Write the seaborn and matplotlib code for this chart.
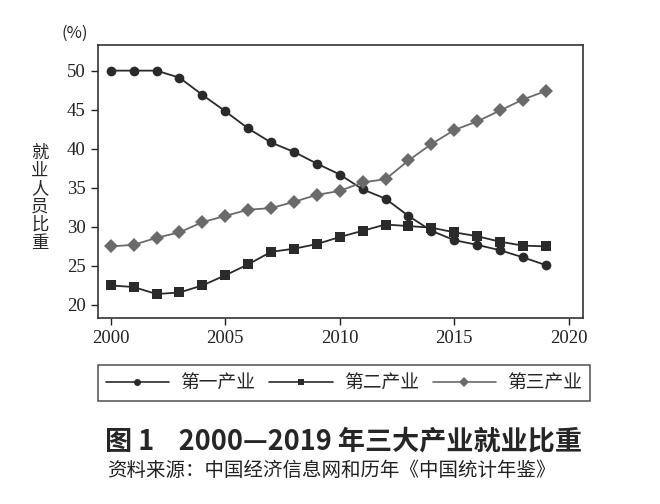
import numpy as np
import pandas as pd
import seaborn as sns
import matplotlib
matplotlib.use("Agg")
import matplotlib.pyplot as plt

years = list(range(2000, 2020))
primary = [50.0, 50.0, 50.0, 49.1, 46.9, 44.8, 42.6, 40.8, 39.6, 38.1,
           36.7, 34.8, 33.6, 31.4, 29.5, 28.3, 27.7, 27.0, 26.1, 25.1]
secondary = [22.5, 22.3, 21.4, 21.6, 22.5, 23.8, 25.2, 26.8, 27.2, 27.8,
             28.7, 29.5, 30.3, 30.1, 29.9, 29.3, 28.8, 28.1, 27.6, 27.5]
tertiary = [27.5, 27.7, 28.6, 29.3, 30.6, 31.4, 32.2, 32.4, 33.2, 34.1,
            34.6, 35.7, 36.1, 38.5, 40.6, 42.4, 43.5, 44.9, 46.3, 47.4]
series_names = ["第一产业", "第二产业", "第三产业"]
x_ticks = [2000, 2005, 2010, 2015, 2020]
y_ticks = [20, 25, 30, 35, 40, 45, 50]

df = pd.DataFrame({
    "year": years * 3,
    "value": primary + secondary + tertiary,
    "series": [series_names[0]] * 20 + [series_names[1]] * 20 + [series_names[2]] * 20,
})

sns.set_style("ticks")
plt.rcParams['font.family'] = ['Liberation Serif', 'Noto Sans CJK SC', 'DejaVu Sans']
cjk = ['Noto Sans CJK SC', 'DejaVu Sans']

fig = plt.figure(figsize=(6.6, 5.04), dpi=100)
ax = fig.add_axes([0.148, 0.369, 0.735, 0.542])

palette = {series_names[0]: "#2a2a2a", series_names[1]: "#2a2a2a", series_names[2]: "#6a6a6a"}
markers = {series_names[0]: "o", series_names[1]: "s", series_names[2]: "D"}
sns.lineplot(data=df, x="year", y="value", hue="series", style="series",
             palette=palette, markers=markers, dashes=False, ax=ax,
             markersize=7, linewidth=1.3, markeredgewidth=0, legend=False)

ax.set_xlim(1999.43, 2020.61)
ax.set_ylim(18.33, 53.3)
ax.set_xticks(x_ticks)
ax.set_yticks(y_ticks)
ax.tick_params(labelsize=13.5, direction='out', length=5, width=1, colors='#222222')
for s in ax.spines.values():
    s.set_visible(True)
    s.set_color('#333333')
    s.set_linewidth(1.2)
ax.set_xlabel("")
ax.set_ylabel("")

fig.text(75/660, 1 - 33/504, "(%)", ha='center', va='center', fontsize=12, family=cjk)
fig.text(40/660, 1 - 198/504, "就\n业\n人\n员\n比\n重", ha='center', va='center',
         fontsize=12.5, family=cjk, linespacing=1.0)

from matplotlib.lines import Line2D
handles = [Line2D([], [], color=palette[n], marker=markers[n], markersize=5, linewidth=1.2,
                  markeredgewidth=0) for n in series_names]
leg = fig.legend(handles, series_names, loc='lower left',
                 bbox_to_anchor=(98/660, 1 - 401/504, (590-98)/660, 33/504),
                 mode='expand', ncol=3, frameon=True, fancybox=False,
                 prop={'family': cjk, 'size': 13.5}, handlelength=3.4, borderaxespad=0,
                 handletextpad=0.6)
leg.get_frame().set_edgecolor('#333333')
leg.get_frame().set_linewidth(1.2)

fig.text(105/660, 1 - 441/504, "图 1    2000—2019 年三大产业就业比重", ha='left', va='center',
         fontsize=19.5, fontweight='bold', family=cjk)
fig.text(107/660, 1 - 470/504, "资料来源：中国经济信息网和历年《中国统计年鉴》", ha='left', va='center',
         fontsize=14, family=cjk, color='#222222')

fig.savefig("out.png", dpi=100)
